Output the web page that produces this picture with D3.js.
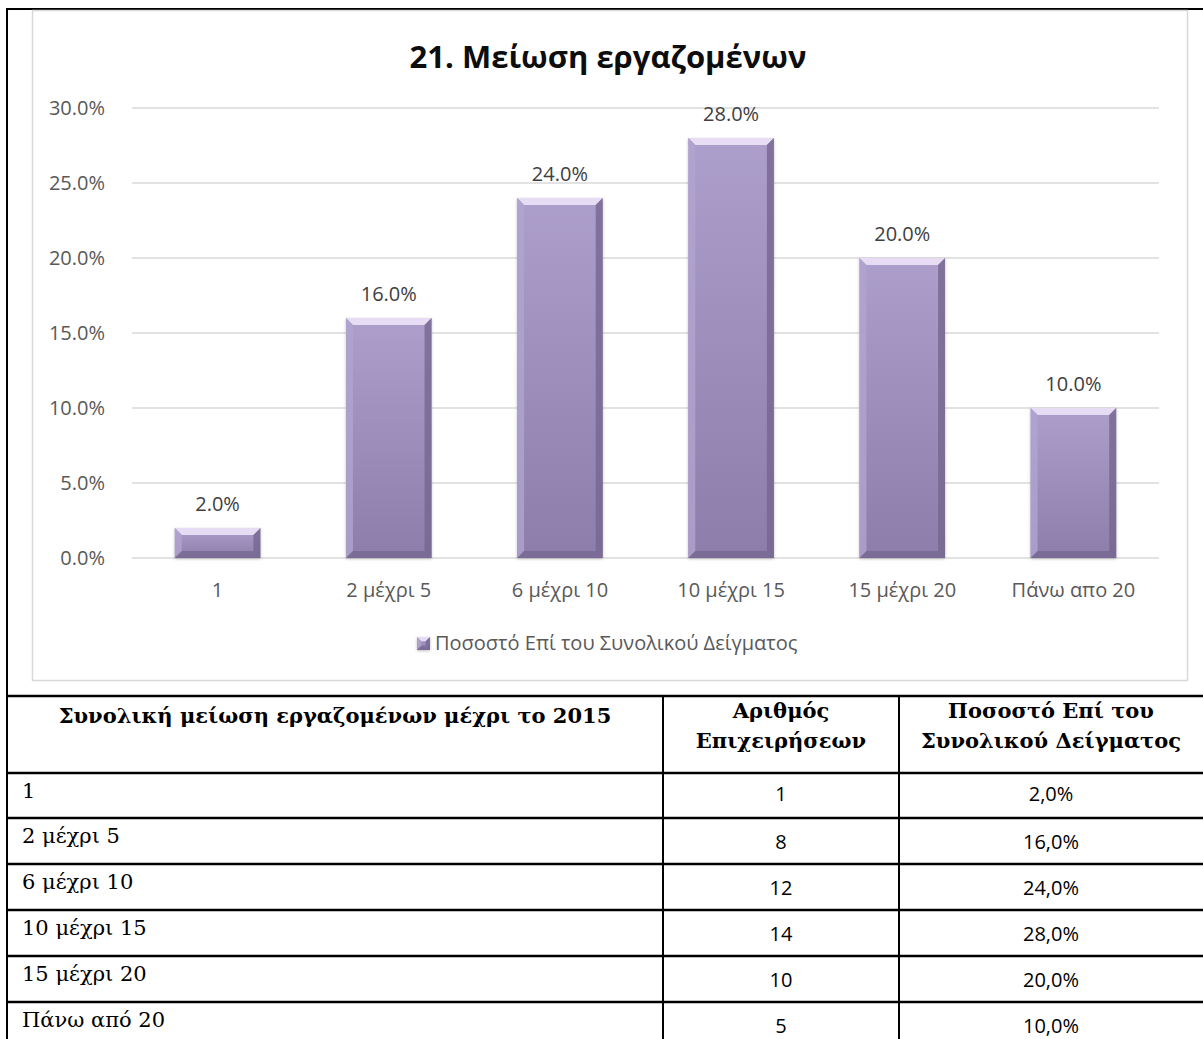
<!DOCTYPE html>
<html>
<head>
<meta charset="utf-8">
<script src="https://cdn.jsdelivr.net/npm/d3@7"></script>
<style>
  body { margin: 0; background: #fff; }
  svg { display: block; }
</style>
</head>
<body>
<svg id="chart" width="1203" height="1039"></svg>
<script>
// chart data
var categories = ['1', '2 μέχρι 5', '6 μέχρι 10', '10 μέχρι 15', '15 μέχρι 20', 'Πάνω απο 20'];
var shares = [2, 16, 24, 28, 20, 10];
var yTicks = [0, 5, 10, 15, 20, 25, 30];
var seriesName = 'Ποσοστό Επί του Συνολικού Δείγματος';

// table data
var tableLabels = ['1', '2 μέχρι 5', '6 μέχρι 10', '10 μέχρι 15', '15 μέχρι 20', 'Πάνω από 20'];
var firmCounts = [1, 8, 12, 14, 10, 5];
var tableHeaders = [
  ['Συνολική μείωση εργαζομένων μέχρι το 2015'],
  ['Αριθμός', 'Επιχειρήσεων'],
  ['Ποσοστό Επί του', 'Συνολικού Δείγματος']
];

var svg = d3.select('#chart');
var sans = "'Open Sans', 'Noto Sans', sans-serif";
var serif = "'DejaVu Serif', serif";

var defs = svg.append('defs');
var grad = defs.append('linearGradient')
  .attr('id', 'barGrad')
  .attr('x1', 0).attr('y1', 0).attr('x2', 0).attr('y2', 1);
grad.append('stop').attr('offset', '0%').attr('stop-color', '#ad9fcc');
grad.append('stop').attr('offset', '100%').attr('stop-color', '#8c7daa');

var shadow = defs.append('filter').attr('id', 'shadow')
  .attr('x', '-20%').attr('y', '-20%').attr('width', '140%').attr('height', '140%');
shadow.append('feDropShadow')
  .attr('dx', 0).attr('dy', 1).attr('stdDeviation', 1.5)
  .attr('flood-color', '#000').attr('flood-opacity', 0.25);

// outer page border lines
svg.append('line').attr('x1', 6).attr('x2', 1203).attr('y1', 9).attr('y2', 9)
  .attr('stroke', '#000').attr('stroke-width', 2);
svg.append('line').attr('x1', 7).attr('x2', 7).attr('y1', 9).attr('y2', 1039)
  .attr('stroke', '#000').attr('stroke-width', 2);

// chart frame
svg.append('rect')
  .attr('x', 32.5).attr('y', 10.5).attr('width', 1155).attr('height', 670)
  .attr('fill', '#fff').attr('stroke', '#d9d9d9').attr('stroke-width', 1.5);

svg.append('text')
  .attr('x', 608).attr('y', 68)
  .attr('text-anchor', 'middle')
  .style('font-family', sans).style('font-weight', 'bold').style('font-size', '31px')
  .attr('fill', '#0d0d0d')
  .text('21. Μείωση εργαζομένων');

var x = d3.scaleBand()
  .domain(categories)
  .range([132, 1159])
  .paddingInner(0.5)
  .paddingOuter(0.25);

var y = d3.scaleLinear()
  .domain([0, 30])
  .range([558, 108]);

// gridlines
svg.append('g')
  .selectAll('line')
  .data(yTicks)
  .enter()
  .append('line')
  .attr('x1', 132).attr('x2', 1159)
  .attr('y1', d => y(d)).attr('y2', d => y(d))
  .attr('stroke', '#d9d9d9').attr('stroke-width', 1.3);

// y axis labels
var yAxis = svg.append('g')
  .attr('transform', 'translate(111,0)')
  .call(d3.axisLeft(y).tickValues(yTicks).tickSize(0).tickPadding(6)
    .tickFormat(d => d3.format('.1f')(d) + '%'));
yAxis.select('.domain').remove();
yAxis.selectAll('text')
  .style('font-family', sans).style('font-size', '20px').attr('fill', '#595959');

// x axis labels
var xAxis = svg.append('g')
  .attr('transform', 'translate(0,558)')
  .call(d3.axisBottom(x).tickSize(0).tickPadding(25));
xAxis.select('.domain').remove();
xAxis.selectAll('text')
  .style('font-family', sans).style('font-size', '20px').attr('fill', '#595959');

function bevelBar(g, bx, by, w, h) {
  var b = Math.min(7, h / 3, w / 3);
  g.append('rect')
    .attr('x', bx).attr('y', by).attr('width', w).attr('height', h)
    .attr('fill', 'url(#barGrad)')
    .attr('filter', 'url(#shadow)');
  var pts = function(a) { return a.map(p => p.join(',')).join(' '); };
  g.append('polygon')
    .attr('points', pts([[bx, by], [bx + w, by], [bx + w - b, by + b], [bx + b, by + b]]))
    .attr('fill', '#e6dcf4');
  g.append('polygon')
    .attr('points', pts([[bx, by], [bx + b, by + b], [bx + b, by + h - b], [bx, by + h]]))
    .attr('fill', '#b2a4d0').attr('opacity', 0.8);
  g.append('polygon')
    .attr('points', pts([[bx + w, by], [bx + w, by + h], [bx + w - b, by + h - b], [bx + w - b, by + b]]))
    .attr('fill', '#75668f').attr('opacity', 0.8);
  g.append('polygon')
    .attr('points', pts([[bx, by + h], [bx + w, by + h], [bx + w - b, by + h - b], [bx + b, by + h - b]]))
    .attr('fill', '#6b5c86').attr('opacity', 0.55);
}

var bars = svg.append('g');
categories.forEach(function(c, i) {
  var g = bars.append('g');
  bevelBar(g, x(c), y(shares[i]), x.bandwidth(), y(0) - y(shares[i]));
});

// value labels
svg.append('g')
  .selectAll('text')
  .data(categories)
  .enter()
  .append('text')
  .attr('x', d => x(d) + x.bandwidth() / 2)
  .attr('y', (d, i) => y(shares[i]) - 17)
  .attr('text-anchor', 'middle')
  .style('font-family', sans).style('font-size', '20px')
  .attr('fill', '#404040')
  .text((d, i) => d3.format('.1f')(shares[i]) + '%');

// legend
var lg = svg.append('g');
bevelBar(lg, 417, 637, 13, 13);
lg.append('text')
  .attr('x', 435).attr('y', 650)
  .style('font-family', sans).style('font-size', '20px')
  .attr('fill', '#595959')
  .text(seriesName);

// table
var colX = [7, 663, 899, 1210];
var rowY = [696, 773, 818, 864, 910, 956, 1002, 1048];
var table = svg.append('g');

rowY.forEach(function(ry) {
  table.append('line')
    .attr('x1', 6).attr('x2', 1203).attr('y1', ry).attr('y2', ry)
    .attr('stroke', '#000').attr('stroke-width', 2.5);
});
colX.slice(1, 3).forEach(function(cx) {
  table.append('line')
    .attr('x1', cx).attr('x2', cx).attr('y1', 696).attr('y2', 1039)
    .attr('stroke', '#000').attr('stroke-width', 2);
});

// headers
tableHeaders.forEach(function(lines, ci) {
  var cx = (colX[ci] + Math.min(colX[ci + 1], 1203)) / 2;
  var y0 = lines.length == 1 ? 723 : 718;
  lines.forEach(function(t, li) {
    table.append('text')
      .attr('x', cx).attr('y', y0 + li * 30)
      .attr('text-anchor', 'middle')
      .style('font-family', serif).style('font-weight', 'bold').style('font-size', '21px')
      .attr('fill', '#000')
      .text(t);
  });
});

// rows
tableLabels.forEach(function(lbl, i) {
  var top = rowY[i + 1];
  var numY = i == 0 ? top + 28 : top + 31;
  table.append('text')
    .attr('x', 22).attr('y', top + 25)
    .style('font-family', serif).style('font-size', '21px')
    .attr('fill', '#000')
    .text(lbl);
  table.append('text')
    .attr('x', (colX[1] + colX[2]) / 2).attr('y', numY)
    .attr('text-anchor', 'middle')
    .style('font-family', sans).style('font-size', '20px')
    .attr('fill', '#000')
    .text(firmCounts[i]);
  table.append('text')
    .attr('x', (colX[2] + 1203) / 2).attr('y', numY)
    .attr('text-anchor', 'middle')
    .style('font-family', sans).style('font-size', '20px')
    .attr('fill', '#000')
    .text(d3.format('.1f')(shares[i]).replace('.', ',') + '%');
});
</script>
</body>
</html>
